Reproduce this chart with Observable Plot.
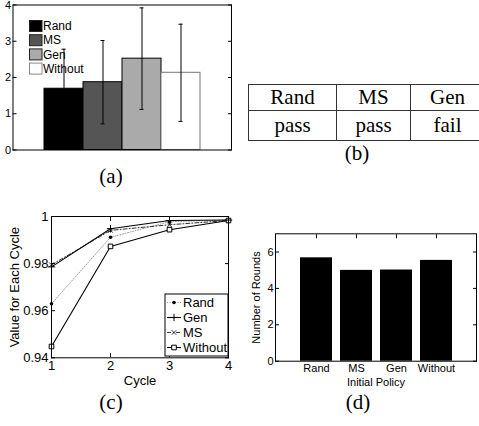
<!DOCTYPE html>
<html>
<head>
<meta charset="utf-8">
<script src="https://cdn.jsdelivr.net/npm/d3@7"></script>
<script src="https://cdn.jsdelivr.net/npm/@observablehq/plot@0.6"></script>
<style>
  body { margin: 0; background: #fff; }
  #fig { position: relative; width: 479px; height: 426px; overflow: hidden; background: #fff; }
  #fig > svg { position: absolute; overflow: visible; max-width: none; }
  table.tb { position: absolute; left: 248px; top: 84px; border-collapse: collapse; table-layout: fixed;
             width: 236px; font-family: "Liberation Serif", "DejaVu Serif", serif; font-size: 21px; color: #000; }
  table.tb td { border: 1px solid #333; text-align: center; padding: 0; vertical-align: middle; line-height: 1;
                white-space: nowrap; overflow: visible; }
</style>
</head>
<body>
<div id="fig"></div>
<script>
// ---------- data ----------
// (a) mean and spread per initial policy
const policies = ["Rand", "MS", "Gen", "Without"];
const meanValue = [1.69, 1.87, 2.52, 2.13];
const spreadValue = [1.09, 1.15, 1.40, 1.34];
const yTicksA = [0, 1, 2, 3, 4];

// (b) table
const tableHeader = ["Rand", "MS", "Gen"];
const tableResult = ["pass", "pass", "fail"];

// (c) value for each cycle
const cycles = [1, 2, 3, 4];
const randValues = [0.9629, 0.9912, 0.9978, 0.9985];
const genValues = [0.9786, 0.9948, 0.9983, 0.9985];
const msValues = [0.9795, 0.9941, 0.9965, 0.9983];
const withoutValues = [0.9448, 0.9873, 0.9944, 0.9983];
const yTicksC = [0.94, 0.96, 0.98, 1];
const xTicksC = [1, 2, 3, 4];

// (d) number of rounds
const roundPolicies = ["Rand", "MS", "Gen", "Without"];
const rounds = [5.68, 4.99, 5.01, 5.54];
const yTicksD = [0, 2, 4, 6];

// ---------- helpers ----------
const fig = document.getElementById("fig");
const SANS = "Liberation Sans, Arial, Helvetica, sans-serif";
function place(svg, left, top) {
  svg.style.left = left + "px";
  svg.style.top = top + "px";
  fig.appendChild(svg);
  return svg;
}

// ---------- (a) ----------
const dataA = policies.map((p, i) => ({policy: p, mean: meanValue[i], sd: spreadValue[i]}));
const fillA = {Rand: "#000000", MS: "#555555", Gen: "#aaaaaa", Without: "#ffffff"};
const edgeA = {Rand: "#000000", MS: "#000000", Gen: "#000000", Without: "#777777"};
const plotA = Plot.plot({
  width: 240, height: 160,
  marginLeft: 12.5, marginTop: 4.5, marginRight: 9, marginBottom: 10.5,
  style: {fontFamily: SANS, fontSize: "11px", color: "#000", background: "transparent", overflow: "visible"},
  color: {type: "identity"},
  x: {domain: policies, paddingInner: 0, paddingOuter: 0.8, axis: null},
  y: {domain: [0, 4]},
  marks: [
    Plot.barY(dataA, {x: "policy", y: "mean", fill: d => fillA[d.policy], stroke: d => edgeA[d.policy], strokeWidth: 1}),
    Plot.ruleX(dataA, {x: "policy", y1: d => d.mean - d.sd, y2: d => d.mean + d.sd, stroke: "#000"}),
    Plot.tickY(dataA, {x: "policy", y: d => d.mean + d.sd, stroke: "#000", insetLeft: 17.5, insetRight: 17.5}),
    Plot.tickY(dataA, {x: "policy", y: d => d.mean - d.sd, stroke: "#000", insetLeft: 17.5, insetRight: 17.5}),
    Plot.frame({stroke: "#000"}),
    Plot.axisY(yTicksA, {anchor: "left", tickSize: 0, tickPadding: 2, label: null}),
    Plot.axisY(yTicksA, {anchor: "left", tickSize: 4, dx: 4, fill: "none", label: null}),
    Plot.axisY(yTicksA, {anchor: "right", tickSize: 4, dx: -4, fill: "none", label: null})
  ]
});
place(plotA, 0, 0);
// legend (a)
{
  const g = d3.select(plotA).append("g").attr("font-family", SANS).attr("font-size", 12)
    .attr("text-anchor", "start");
  policies.forEach((p, i) => {
    const y = 20.5 + i * 14.2;
    g.append("rect").attr("x", 29.5).attr("y", y).attr("width", 12.5).attr("height", 11)
      .attr("fill", fillA[p]).attr("stroke", p === "Without" ? "#888" : "#222");
    g.append("text").attr("x", 43).attr("y", y + 5.5).attr("dy", "0.35em")
      .attr("text-anchor", "start").text(p);
  });
}

// ---------- (b) table ----------
{
  const table = document.createElement("table");
  table.className = "tb";
  const colgroup = document.createElement("colgroup");
  [88, 74, 74].forEach(w => {
    const col = document.createElement("col");
    col.style.width = w + "px";
    colgroup.appendChild(col);
  });
  table.appendChild(colgroup);
  const r1 = table.insertRow(), r2 = table.insertRow();
  tableHeader.forEach(h => {
    const c = r1.insertCell(); c.textContent = h; c.style.height = "25px";
  });
  tableResult.forEach(h => {
    const c = r2.insertCell(); c.textContent = h; c.style.height = "29px";
  });
  fig.appendChild(table);
}

// ---------- (c) ----------
const seriesC = [
  {name: "Rand", values: randValues},
  {name: "Gen", values: genValues},
  {name: "MS", values: msValues},
  {name: "Without", values: withoutValues}
];
const styleC = {
  Rand:    {stroke: "#9a9a9a", dash: "1,1.6", width: 1,   symbol: "circle", r: 1.8, fill: "#000", mstroke: "none"},
  Gen:     {stroke: "#000",    dash: null,    width: 1.1, symbol: "plus",   r: 2.5, fill: "none", mstroke: "#000"},
  MS:      {stroke: "#333",    dash: "4,2,1,2", width: 1, symbol: "times",  r: 2.2, fill: "none", mstroke: "#333"},
  Without: {stroke: "#000",    dash: null,    width: 1.1, symbol: "square", r: 2.6, fill: "#fff", mstroke: "#000"}
};
const drawOrder = ["Rand", "MS", "Without", "Gen"];
const dataC = seriesC.flatMap(s => cycles.map((c, i) => ({series: s.name, cycle: c, value: s.values[i]})));
const marksC = [];
drawOrder.forEach(name => {
  const st = styleC[name];
  const rows = dataC.filter(d => d.series === name);
  marksC.push(Plot.line(rows, {x: "cycle", y: "value", stroke: st.stroke, strokeWidth: st.width, strokeDasharray: st.dash}));
});
drawOrder.forEach(name => {
  const st = styleC[name];
  const rows = dataC.filter(d => d.series === name);
  marksC.push(Plot.dot(rows, {x: "cycle", y: "value", symbol: st.symbol, r: st.r, fill: st.fill, stroke: st.mstroke, strokeWidth: 1}));
});
const fmtC = d => String(+(+d).toFixed(2));
const plotC = Plot.plot({
  width: 240, height: 200,
  marginLeft: 51, marginTop: 21, marginRight: 12, marginBottom: 37.7,
  style: {fontFamily: SANS, fontSize: "13px", color: "#000", background: "transparent", overflow: "visible"},
  x: {domain: [1, 4]},
  y: {domain: [0.94, 1]},
  marks: [
    ...marksC,
    Plot.frame({stroke: "#000"}),
    Plot.axisX(xTicksC, {anchor: "bottom", tickSize: 0, tickPadding: 3, tickFormat: d => String(d),
      label: "Cycle", labelAnchor: "center", labelArrow: "none", labelOffset: 27}),
    Plot.axisX(xTicksC, {anchor: "bottom", tickSize: 4, dy: -4, fill: "none", label: null}),
    Plot.axisX(xTicksC, {anchor: "top", tickSize: 4, dy: 4, fill: "none", label: null}),
    Plot.axisY(yTicksC, {anchor: "left", tickSize: 0, tickPadding: 3, tickFormat: fmtC,
      label: "Value for Each Cycle", labelAnchor: "center", labelArrow: "none", labelOffset: 42}),
    Plot.axisY(yTicksC, {anchor: "left", tickSize: 4, dx: 4, fill: "none", label: null}),
    Plot.axisY(yTicksC, {anchor: "right", tickSize: 4, dx: -4, fill: "none", label: null})
  ]
});
place(plotC, 0, 195);
// legend (c)
{
  const g = d3.select(plotC).append("g").attr("font-family", SANS).attr("font-size", 13)
    .attr("text-anchor", "start");
  g.append("rect").attr("x", 165).attr("y", 99).attr("width", 63).attr("height", 62)
    .attr("fill", "#fff").attr("stroke", "#000");
  const symbolMap = {circle: d3.symbolCircle, plus: d3.symbolPlus, times: d3.symbolTimes, square: d3.symbolSquare};
  seriesC.forEach((s, i) => {
    const st = styleC[s.name];
    const y = 107.5 + i * 15;
    g.append("line").attr("x1", 167).attr("x2", 181).attr("y1", y).attr("y2", y)
      .attr("stroke", st.stroke).attr("stroke-width", st.width).attr("stroke-dasharray", st.dash);
    g.append("path").attr("transform", `translate(174,${y})`)
      .attr("d", d3.symbol(symbolMap[st.symbol], Math.PI * st.r * st.r)())
      .attr("fill", st.fill).attr("stroke", st.mstroke);
    g.append("text").attr("x", 183).attr("y", y).attr("dy", "0.35em")
      .attr("text-anchor", "start").text(s.name);
  });
}

// ---------- (d) ----------
const dataD = roundPolicies.map((p, i) => ({policy: p, rounds: rounds[i]}));
const plotD = Plot.plot({
  width: 239, height: 175,
  marginLeft: 35, marginTop: 13.3, marginRight: 3, marginBottom: 34.3,
  style: {fontFamily: SANS, fontSize: "11px", color: "#000", background: "transparent", overflow: "visible"},
  x: {domain: roundPolicies, paddingInner: 0.2, paddingOuter: 0.6},
  y: {domain: [0, 7]},
  marks: [
    Plot.barY(dataD, {x: "policy", y: "rounds", fill: "#000"}),
    Plot.frame({stroke: "#000"}),
    Plot.axisX({anchor: "bottom", tickSize: 0, tickPadding: 3,
      label: "Initial Policy", labelAnchor: "center", labelArrow: "none", labelOffset: 25}),
    Plot.axisX({anchor: "top", tickSize: 4, dy: 4, fill: "none", label: null}),
    Plot.axisY(yTicksD, {anchor: "left", tickSize: 0, tickPadding: 2,
      label: "Number of Rounds", labelAnchor: "center", labelArrow: "none", labelOffset: 23}),
    Plot.axisY(yTicksD, {anchor: "left", tickSize: 4, dx: 4, fill: "none", label: null}),
    Plot.axisY(yTicksD, {anchor: "right", tickSize: 4, dx: -4, fill: "none", label: null})
  ]
});
place(plotD, 240, 220);

// ---------- captions ----------
{
  const svg = d3.create("svg").attr("width", 479).attr("height", 426)
    .style("left", "0px").style("top", "0px").style("pointer-events", "none");
  const caps = [["(a)", 111, 183], ["(b)", 357, 160], ["(c)", 111, 409], ["(d)", 358, 409]];
  caps.forEach(([t, x, y]) => {
    svg.append("text").attr("x", x).attr("y", y).attr("text-anchor", "middle")
      .attr("font-family", "Liberation Serif, DejaVu Serif, serif").attr("font-size", 21).text(t);
  });
  fig.appendChild(svg.node());
}
</script>
</body>
</html>
